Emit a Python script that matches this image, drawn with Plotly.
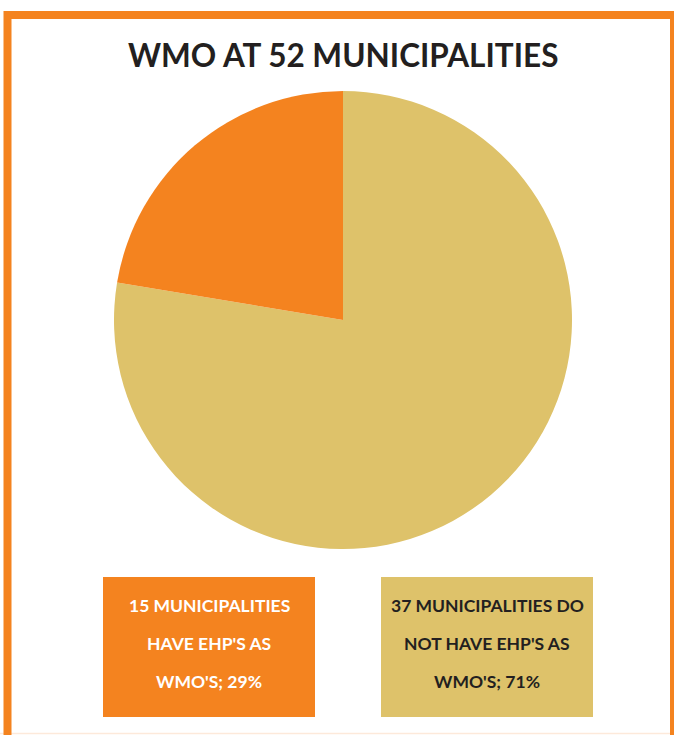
import plotly.graph_objects as go

W, H = 674, 735

title_text = "WMO AT 52 MUNICIPALITIES"
slice_names = ["Have EHP's as WMO's", "Do not have EHP's as WMO's"]
slice_values = [15, 52]  # slice sizes as drawn in the reference pie
slice_colors = ["#F4831F", "#DEC26A"]
box_lines = [
    ["15 MUNICIPALITIES", "HAVE EHP'S AS", "WMO'S; 29%"],
    ["37 MUNICIPALITIES DO", "NOT HAVE EHP'S AS", "WMO'S; 71%"],
]
box_text_colors = ["#FFFFFF", "#231F20"]

FONT = "Lato"


def px(x):
    return x / W


def py(y):
    return 1 - y / H


fig = go.Figure()
# drawn in reverse order clockwise from 12 o'clock so the orange slice
# sits just left of 12 o'clock, as in the reference
fig.add_trace(go.Pie(
    labels=slice_names[::-1],
    values=slice_values[::-1],
    marker=dict(colors=slice_colors[::-1], line=dict(width=0)),
    sort=False,
    direction="clockwise",
    rotation=0,
    textinfo="none",
    hoverinfo="label+value",
    showlegend=False,
    domain=dict(x=[px(114), px(572)], y=[py(549), py(91)]),
))

shapes = [
    dict(type="line", xref="paper", yref="paper",
         x0=0, x1=1, y0=py(733.5), y1=py(733.5),
         line=dict(color="#FDE9DA", width=1.5)),
    dict(type="rect", xref="paper", yref="paper",
         x0=px(7.5), x1=px(674), y0=-0.05, y1=py(15),
         line=dict(color="#F4831F", width=8), fillcolor="rgba(0,0,0,0)"),
]
annotations = [
    dict(text="<b>" + title_text + "</b>", xref="paper", yref="paper",
         x=px(343), y=py(55), xanchor="center", yanchor="middle",
         showarrow=False, font=dict(family=FONT, size=31.5, color="#231F20")),
]

boxes_x = [(103, 315), (381, 593)]
for i, (x0, x1) in enumerate(boxes_x):
    shapes.append(dict(type="rect", xref="paper", yref="paper",
                       x0=px(x0), x1=px(x1), y0=py(717), y1=py(577),
                       line=dict(width=0), fillcolor=slice_colors[i], layer="below"))
    for j, line in enumerate(box_lines[i]):
        annotations.append(dict(
            text="<b>" + line + "</b>", xref="paper", yref="paper",
            x=px((x0 + x1) / 2), y=py(605 + 38 * j),
            xanchor="center", yanchor="middle", showarrow=False,
            font=dict(family=FONT, size=17.5, color=box_text_colors[i])))

fig.update_layout(
    width=W, height=H,
    margin=dict(l=0, r=0, t=0, b=0),
    paper_bgcolor="white", plot_bgcolor="white",
    shapes=shapes, annotations=annotations,
)

fig.write_html("out.html")
